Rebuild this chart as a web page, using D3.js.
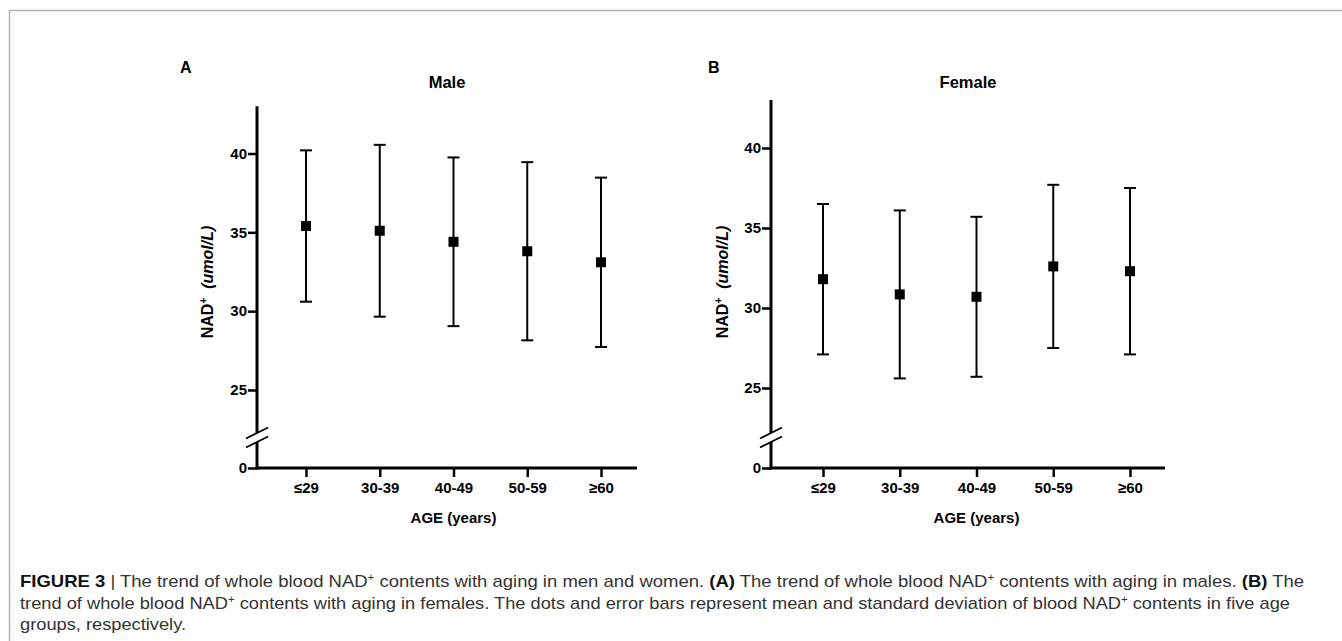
<!DOCTYPE html>
<html>
<head>
<meta charset="utf-8">
<script src="https://cdn.jsdelivr.net/npm/d3@7"></script>
<style>
  body { margin: 0; background: #fff; }
  svg { display: block; }
  .axis text { font-family: "Liberation Sans", Arial, sans-serif; font-weight: bold; font-size: 15px; fill: #000; }
  .axis line { stroke: #000; stroke-width: 2.5; }
</style>
</head>
<body>
<div id="chart"></div>
<script>
(function() {

// Data: mean and SD of whole blood NAD+ (umol/L)
var ageGroups = ['≤29', '30-39', '40-49', '50-59', '≥60'];
var maleMean = [35.4, 35.1, 34.4, 33.8, 33.1];
var maleSD = [4.8, 5.45, 5.35, 5.65, 5.37];
var femaleMean = [31.8, 30.85, 30.7, 32.6, 32.3];
var femaleSD = [4.7, 5.25, 5.0, 5.1, 5.2];
var yTicks = [25, 30, 35, 40];
var yTicksLow = [0];

var width = 1342, height = 641;
var font = '"Liberation Sans", Arial, sans-serif';

var svg = d3.select('#chart')
    .append('svg')
    .attr('width', width)
    .attr('height', height);

// Frame (top and left edges only)
svg.append('path')
    .attr('d', 'M9.5,641 L9.5,10.5 L1342,10.5')
    .attr('fill', 'none')
    .attr('stroke', '#b3b3b3')
    .attr('stroke-width', 1.5);

function drawPanel(cfg, means, sds, title, letter) {

  var g = svg.append('g');

  // upper y segment (25..43) and lower segment (0)
  var y = d3.scaleLinear().domain([25, 40]).range([cfg.y25, cfg.y40]);
  var yLow = d3.scaleLinear().domain([0, 1]).range([cfg.yZero, cfg.yZero - 16]);

  var x = d3.scalePoint().domain(ageGroups).range([cfg.xFirst, cfg.xLast]);

  // y axis lines with break gap
  g.append('line')
      .attr('x1', cfg.axisX).attr('x2', cfg.axisX)
      .attr('y1', y(43)).attr('y2', cfg.breakTop)
      .attr('stroke', '#000').attr('stroke-width', 3);
  g.append('line')
      .attr('x1', cfg.axisX).attr('x2', cfg.axisX)
      .attr('y1', cfg.breakBottom).attr('y2', cfg.yZero + 1.5)
      .attr('stroke', '#000').attr('stroke-width', 3);

  // break slashes
  [cfg.breakTop, cfg.breakBottom].forEach(function(cy) {
    g.append('line')
        .attr('x1', cfg.axisX - 11).attr('y1', cy + 5.5)
        .attr('x2', cfg.axisX + 11).attr('y2', cy - 5.5)
        .attr('stroke', '#000').attr('stroke-width', 1.8);
  });

  // y ticks
  var yAxis = g.append('g')
      .attr('class', 'axis')
      .attr('transform', 'translate(' + cfg.axisX + ',0)')
      .call(d3.axisLeft(y).tickValues(yTicks).tickSize(9).tickPadding(1).tickFormat(d3.format('d')));
  yAxis.select('.domain').remove();

  var yAxisLow = g.append('g')
      .attr('class', 'axis')
      .attr('transform', 'translate(' + cfg.axisX + ',0)')
      .call(d3.axisLeft(yLow).tickValues(yTicksLow).tickSize(9).tickPadding(1).tickFormat(d3.format('d')));
  yAxisLow.select('.domain').remove();

  // x axis
  g.append('line')
      .attr('x1', cfg.axisX - 1.5).attr('x2', cfg.axisEnd)
      .attr('y1', cfg.yZero).attr('y2', cfg.yZero)
      .attr('stroke', '#000').attr('stroke-width', 3);

  var xAxis = g.append('g')
      .attr('class', 'axis')
      .attr('transform', 'translate(0,' + cfg.yZero + ')')
      .call(d3.axisBottom(x).tickSize(9).tickPadding(5));
  xAxis.select('.domain').remove();

  // error bars
  var bars = g.selectAll('.err')
      .data(ageGroups)
      .enter().append('g')
      .attr('class', 'err');

  bars.append('line')
      .attr('x1', function(d) { return x(d); })
      .attr('x2', function(d) { return x(d); })
      .attr('y1', function(d, i) { return y(means[i] + sds[i]); })
      .attr('y2', function(d, i) { return y(means[i] - sds[i]); })
      .attr('stroke', '#000').attr('stroke-width', 2);

  [1, -1].forEach(function(s) {
    bars.append('line')
        .attr('x1', function(d) { return x(d) - 6; })
        .attr('x2', function(d) { return x(d) + 6; })
        .attr('y1', function(d, i) { return y(means[i] + s * sds[i]); })
        .attr('y2', function(d, i) { return y(means[i] + s * sds[i]); })
        .attr('stroke', '#000').attr('stroke-width', 2);
  });

  bars.append('rect')
      .attr('x', function(d) { return x(d) - 5; })
      .attr('y', function(d, i) { return y(means[i]) - 5; })
      .attr('width', 10)
      .attr('height', 10)
      .attr('fill', '#000');

  // axis title
  g.append('text')
      .attr('x', (cfg.xFirst + cfg.xLast) / 2)
      .attr('y', 523)
      .attr('text-anchor', 'middle')
      .style('font-family', font).style('font-weight', 'bold').style('font-size', '15px')
      .text('AGE (years)');

  // y label
  var yl = g.append('text')
      .attr('transform', 'translate(' + cfg.labelX + ',' + cfg.labelY + ') rotate(-90)')
      .attr('text-anchor', 'middle')
      .style('font-family', font).style('font-weight', 'bold').style('font-size', '16px');
  yl.append('tspan').text('NAD');
  yl.append('tspan').attr('dy', -6).style('font-size', '10px').text('+');
  yl.append('tspan').attr('dy', 6).style('font-style', 'italic').text('\u00a0\u00a0(umol/L)');

  // panel title
  g.append('text')
      .attr('x', (cfg.axisX + cfg.axisEnd) / 2)
      .attr('y', 88)
      .attr('text-anchor', 'middle')
      .style('font-family', font).style('font-weight', 'bold').style('font-size', '16.5px')
      .text(title);

  // panel letter
  g.append('text')
      .attr('x', cfg.letterX)
      .attr('y', 73)
      .style('font-family', font).style('font-weight', 'bold').style('font-size', '16px')
      .text(letter);
}

drawPanel({axisX: 257, axisEnd: 637, y25: 390, y40: 153.5, yZero: 468,
           breakTop: 433, breakBottom: 442, xFirst: 306, xLast: 601,
           labelX: 213, labelY: 282, letterX: 180},
          maleMean, maleSD, 'Male', 'A');

drawPanel({axisX: 771, axisEnd: 1165, y25: 388, y40: 148, yZero: 468,
           breakTop: 433, breakBottom: 442, xFirst: 823, xLast: 1130,
           labelX: 728, labelY: 282, letterX: 708},
          femaleMean, femaleSD, 'Female', 'B');

// Caption
var captionLines = [
  [['FIGURE 3', 'b'], [' | The trend of whole blood NAD', 'n'], ['+', 's'], [' contents with aging in men and women. ', 'n'],
   ['(A)', 'b'], [' The trend of whole blood NAD', 'n'], ['+', 's'], [' contents with aging in males. ', 'n'], ['(B)', 'b'], [' The', 'n']],
  [['trend of whole blood NAD', 'n'], ['+', 's'], [' contents with aging in females. The dots and error bars represent mean and standard deviation of blood NAD', 'n'],
   ['+', 's'], [' contents in five age', 'n']],
  [['groups, respectively.', 'n']]
];
var captionWidths = [1285, 1271, null];
var captionY = [587, 608.5, 630];

var squeeze = 1;
captionLines.forEach(function(parts, li) {
  var t = svg.append('text')
      .attr('x', 0)
      .attr('y', 0)
      .style('font-family', font)
      .style('font-size', '16px')
      .style('fill', '#333');
  var shifted = false;
  parts.forEach(function(p) {
    var ts = t.append('tspan').text(p[0]);
    if (p[1] === 'b') ts.style('font-weight', 'bold').style('fill', '#111');
    if (p[1] === 's') { ts.attr('dy', -6).style('font-size', '10px'); shifted = true; }
    else if (shifted) { ts.attr('dy', 6); shifted = false; }
  });
  var len = t.node().getComputedTextLength();
  if (captionWidths[li]) squeeze = captionWidths[li] / len;
  t.attr('transform', 'translate(20,' + captionY[li] + ') scale(' + squeeze + ',1)');
});

})();
</script>
</body>
</html>
